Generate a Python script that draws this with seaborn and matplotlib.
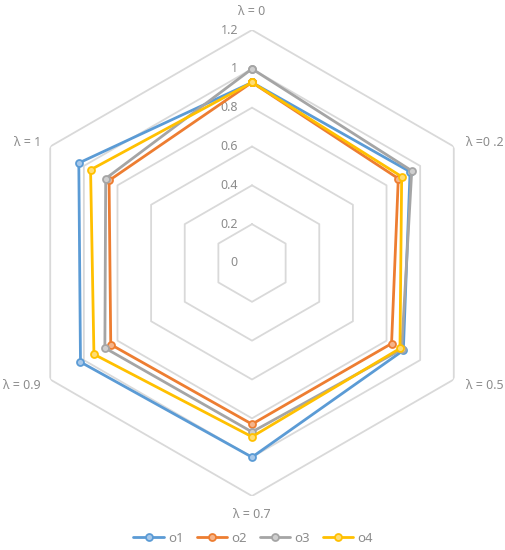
import numpy as np
import pandas as pd
import matplotlib
matplotlib.use("Agg")
import matplotlib.pyplot as plt
import seaborn as sns
from matplotlib.lines import Line2D

# categories clockwise from top
categories = ["λ = 0", "λ =0 .2", "λ = 0.5", "λ = 0.7", "λ = 0.9", "λ = 1"]
series_names = ["o1", "o2", "o3", "o4"]
o1 = [0.93, 0.94, 0.90, 1.00, 1.02, 1.03]
o2 = [0.93, 0.87, 0.83, 0.83, 0.84, 0.85]
o3 = [1.00, 0.95, 0.89, 0.87, 0.875, 0.87]
o4 = [0.93, 0.89, 0.88, 0.895, 0.94, 0.96]
r_ticks = [0, 0.2, 0.4, 0.6, 0.8, 1, 1.2]
r_tick_labels = ["0", "0.2", "0.4", "0.6", "0.8", "1", "1.2"]

colors = ["#5B9BD5", "#ED7D31", "#A5A5A5", "#FFC000"]
faces = ["#A9C9EA", "#F5B48A", "#CFCFCF", "#FFDD75"]
grid_color = "#D9D9D9"
text_color = "#8C8C8C"

sns.set_style("white")
plt.rcParams["font.family"] = ["Noto Sans", "DejaVu Sans"]

n = len(categories)
theta = np.linspace(0, 2 * np.pi, n, endpoint=False)
theta_closed = np.append(theta, 2 * np.pi)

fig = plt.figure(figsize=(5.06, 5.5), dpi=100)
ax = fig.add_axes([19 / 506, 54 / 550, 466 / 506, 466 / 550], projection="polar")
ax.set_theta_zero_location("N")
ax.set_theta_direction(-1)
ax.set_ylim(0, 1.2)
ax.grid(False)
ax.spines["polar"].set_visible(False)
ax.set_facecolor("none")

# hexagonal grid rings
for r in r_ticks[1:]:
    ax.plot(theta_closed, [r] * (n + 1), color=grid_color, lw=1.3, zorder=1)

# radial value labels
for r, lab in zip(r_ticks, r_tick_labels):
    ax.annotate(lab, xy=(0, r), xytext=(-14, 0), textcoords="offset pixels",
                ha="right", va="center", fontsize=9, color=text_color)

# category labels
offsets = [(0, 12, "center", "bottom"), (12, 4, "left", "center"),
           (12, -6, "left", "center"), (0, -12, "center", "top"),
           (-10, -6, "right", "center"), (-9, 4, "right", "center")]
for t, lab, (dx, dy, ha, va) in zip(theta, categories, offsets):
    ax.annotate(lab, xy=(t, 1.2), xytext=(dx, dy), textcoords="offset pixels",
                ha=ha, va=va, fontsize=9, color=text_color)

all_vals = [o1, o2, o3, o4]
for name, vals, c, fc in zip(series_names, all_vals, colors, faces):
    df = pd.DataFrame({"theta": theta_closed, "r": vals + [vals[0]]})
    sns.lineplot(data=df, x="theta", y="r", sort=False, ax=ax, color=c, lw=2.0,
                 marker="o", markersize=5, markeredgecolor=c, markerfacecolor=fc,
                 markeredgewidth=1.3, zorder=3)

ax.set_xlabel("")
ax.set_ylabel("")
ax.set_xticks([])
ax.set_yticks([])
ax.set_ylim(0, 1.2)

handles = [Line2D([0], [0], color=c, lw=2.0, marker="o", markersize=5,
                  markeredgecolor=c, markerfacecolor=fc, markeredgewidth=1.3)
           for c, fc in zip(colors, faces)]
leg = fig.legend(handles, series_names, loc="lower center", ncol=4, frameon=False,
                 bbox_to_anchor=(0.5, -0.012), fontsize=9.5, handlelength=2.3,
                 columnspacing=1.0, handletextpad=0.3)
for t in leg.get_texts():
    t.set_color(text_color)

fig.savefig("out.png", dpi=100)
